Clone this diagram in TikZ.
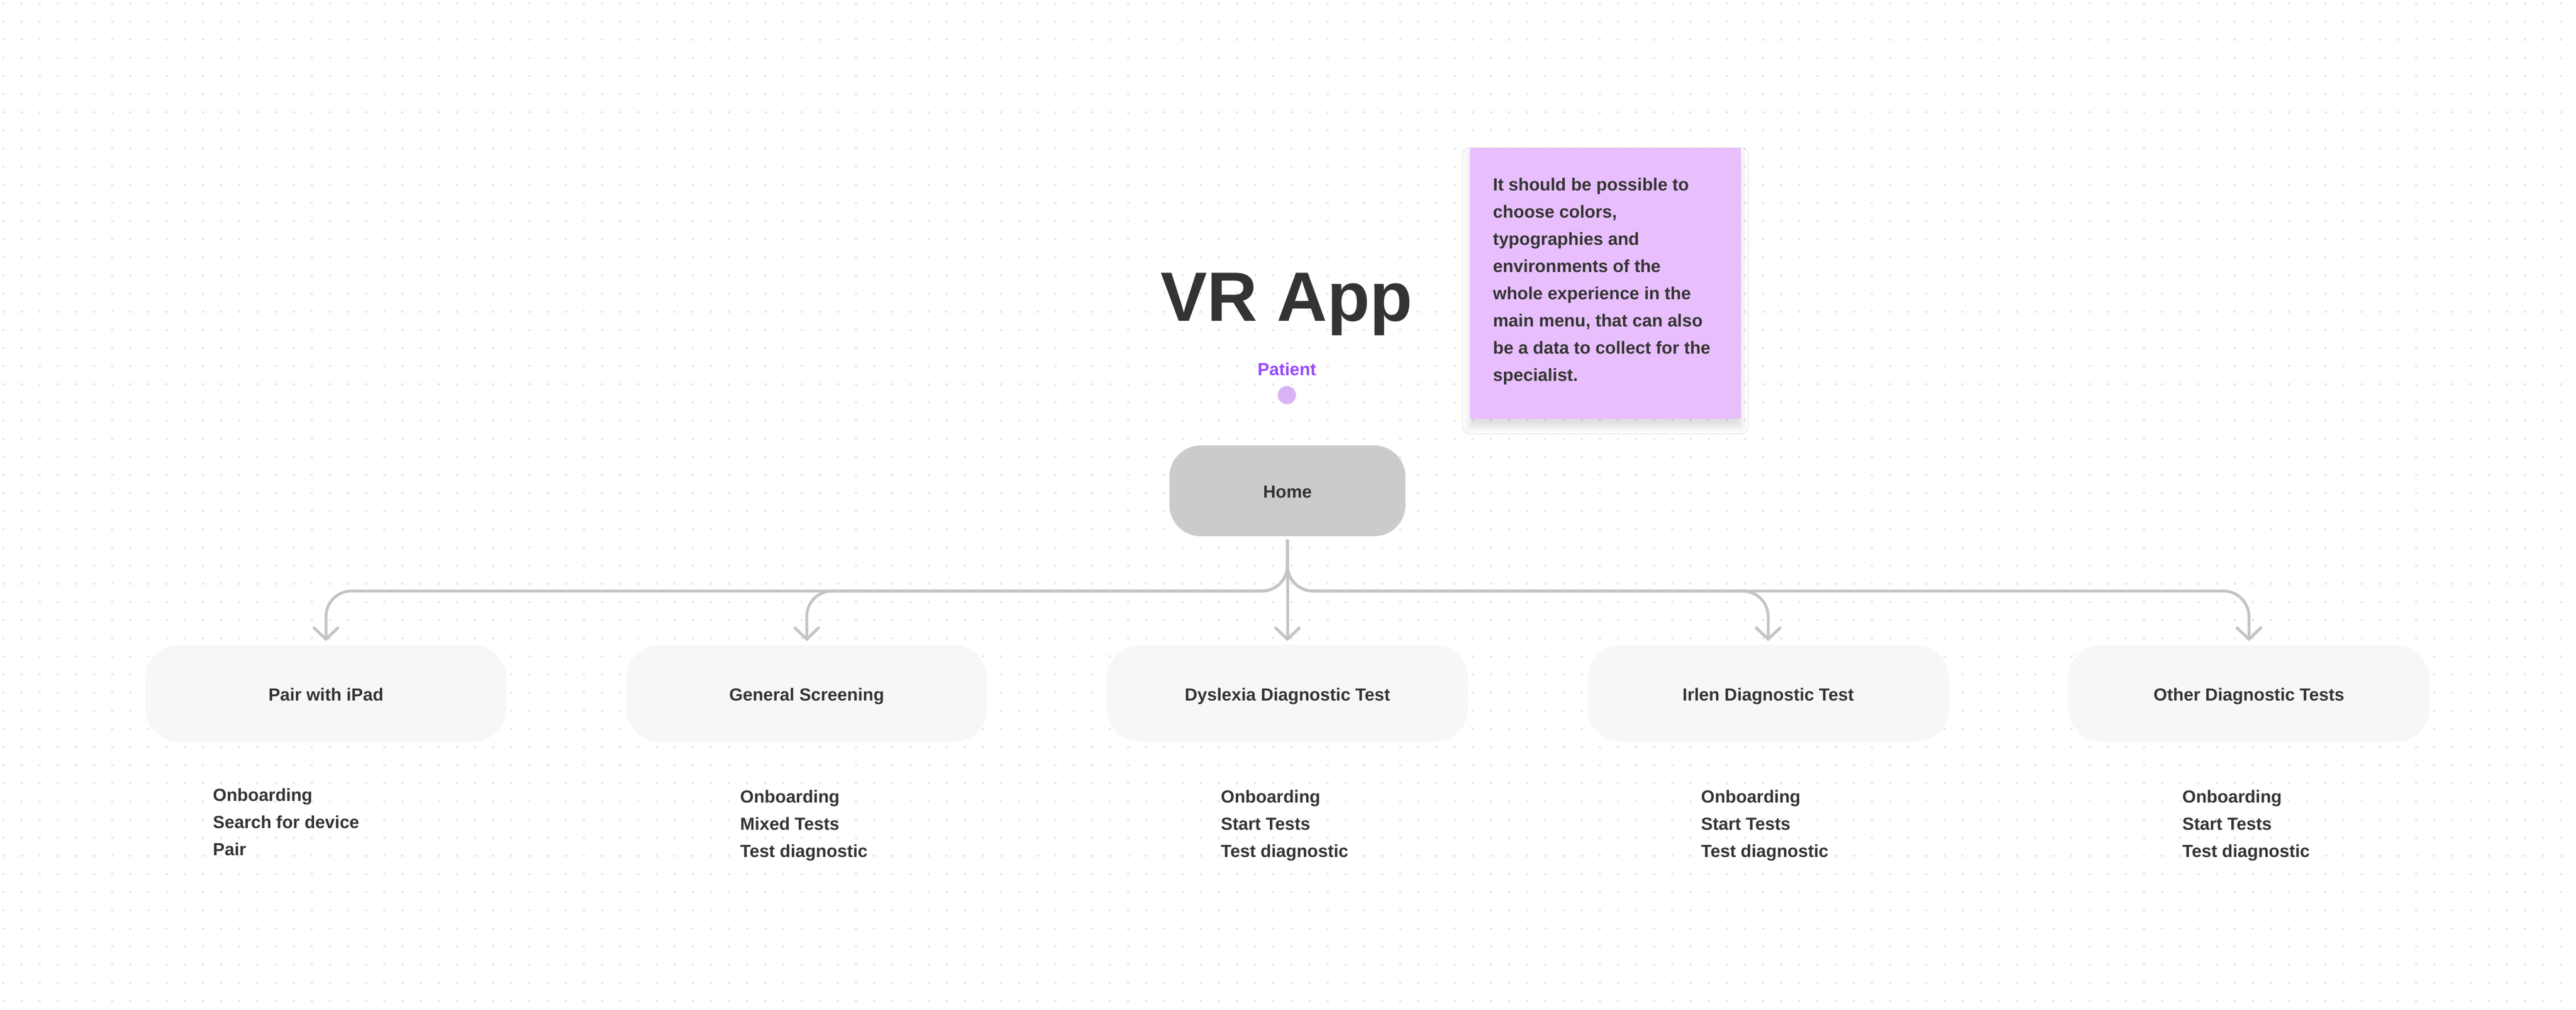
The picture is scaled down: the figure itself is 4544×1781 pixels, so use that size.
\documentclass[tikz,border=0pt]{standalone}
\usepackage{fontspec}
\setmainfont{Liberation Sans}
\usetikzlibrary{arrows.meta,shadows.blur}
\definecolor{ink}{HTML}{333333}
\definecolor{purp}{HTML}{9747FF}
\definecolor{dotp}{HTML}{D9B3F7}
\definecolor{homec}{HTML}{CCCACB}
\definecolor{boxc}{HTML}{F7F7F7}
\definecolor{notec}{HTML}{E8BFFC}
\definecolor{connc}{HTML}{C4C4C4}
\definecolor{gridc}{HTML}{E4E4E6}
\newcommand\mylbl{\fontsize{8.8}{13.66}\selectfont\bfseries}
\begin{document}
\begin{tikzpicture}[x=0.01cm,y=-0.01cm,
  conn/.style={draw=connc, line width=0.05cm, line cap=round, line join=round,
    -{Straight Barb[length=0.2cm,width=0.42cm,line cap=round]},
    shorten <=0.07cm, shorten >=0.06cm},
  screen/.style={rectangle, rounded corners=0.6cm, fill=boxc, minimum width=6.37cm,
    minimum height=1.71cm, inner sep=0pt, text height=0.26cm, text depth=0cm,
    font=\mylbl, text=ink},
  homebox/.style={rectangle, rounded corners=0.55cm, fill=homec, minimum width=4.16cm,
    minimum height=1.6cm, inner sep=0pt, text height=0.24cm, text depth=0cm,
    font=\mylbl, text=ink},
  steps/.style={anchor=north west, inner sep=0pt, align=left, font=\mylbl, text=ink},
  sticky/.style={rectangle, fill=notec, minimum width=4.78cm, minimum height=4.78cm,
    inner sep=0pt,
    blur shadow={shadow xshift=0cm, shadow yshift=-0.13cm, shadow blur radius=0.13cm, shadow opacity=14}}
]
\useasboundingbox (0,0) rectangle (4544,1781);
\fill[white] (0,0) rectangle (4544,1781);
% dot grid
\foreach \j in {0,...,55}{
  \fill[gridc] \foreach \i in {0,...,141}{ ({6+32*\i},{6+32*\j}) circle (0.02cm) };
}
% title
\node[anchor=base, inner sep=0pt, font=\fontsize{35}{40}\selectfont\bfseries, text=ink] (title) at (2270,566) {VR App};
\node[anchor=base, inner sep=0pt, font=\mylbl, text=purp] (patient) at (2270,662) {Patient};
\node[circle, fill=dotp, minimum size=0.32cm, inner sep=0pt] (pdot) at (2270,697) {};
% sticky note
\node[sticky] (note) at (2832,500) {};
\node[steps] (notetext) at (2633,313) {It should be possible to\\choose colors,\\typographies and\\environments of the\\whole experience in the\\main menu, that can also\\be a data to collect for the\\specialist.};
% home
\node[homebox] (home) at (2271,866) {Home};
% screens
\node[screen] (pair) at (575,1223.5) {Pair with iPad};
\node[screen] (gen) at (1423,1223.5) {General Screening};
\node[screen] (dys) at (2271,1223.5) {Dyslexia Diagnostic Test};
\node[screen] (irl) at (3119,1223.5) {Irlen Diagnostic Test};
\node[screen] (oth) at (3967,1223.5) {Other Diagnostic Tests};
% connectors
\draw[conn, rounded corners=0.45cm] (home.south) -- ++(0,96) -| (pair.north);
\draw[conn, rounded corners=0.45cm] (home.south) -- ++(0,96) -| (gen.north);
\draw[conn] (home.south) -- (dys.north);
\draw[conn, rounded corners=0.45cm] (home.south) -- ++(0,96) -| (irl.north);
\draw[conn, rounded corners=0.45cm] (home.south) -- ++(0,96) -| (oth.north);
% step lists
\node[steps] (pairsteps) at (375,1390) {Onboarding\\Search for device\\Pair};
\node[steps] (gensteps) at (1305,1393) {Onboarding\\Mixed Tests\\Test diagnostic};
\node[steps] (dyssteps) at (2153,1393) {Onboarding\\Start Tests\\Test diagnostic};
\node[steps] (irlsteps) at (3000,1393) {Onboarding\\Start Tests\\Test diagnostic};
\node[steps] (othsteps) at (3849,1393) {Onboarding\\Start Tests\\Test diagnostic};
\end{tikzpicture}
\end{document}
